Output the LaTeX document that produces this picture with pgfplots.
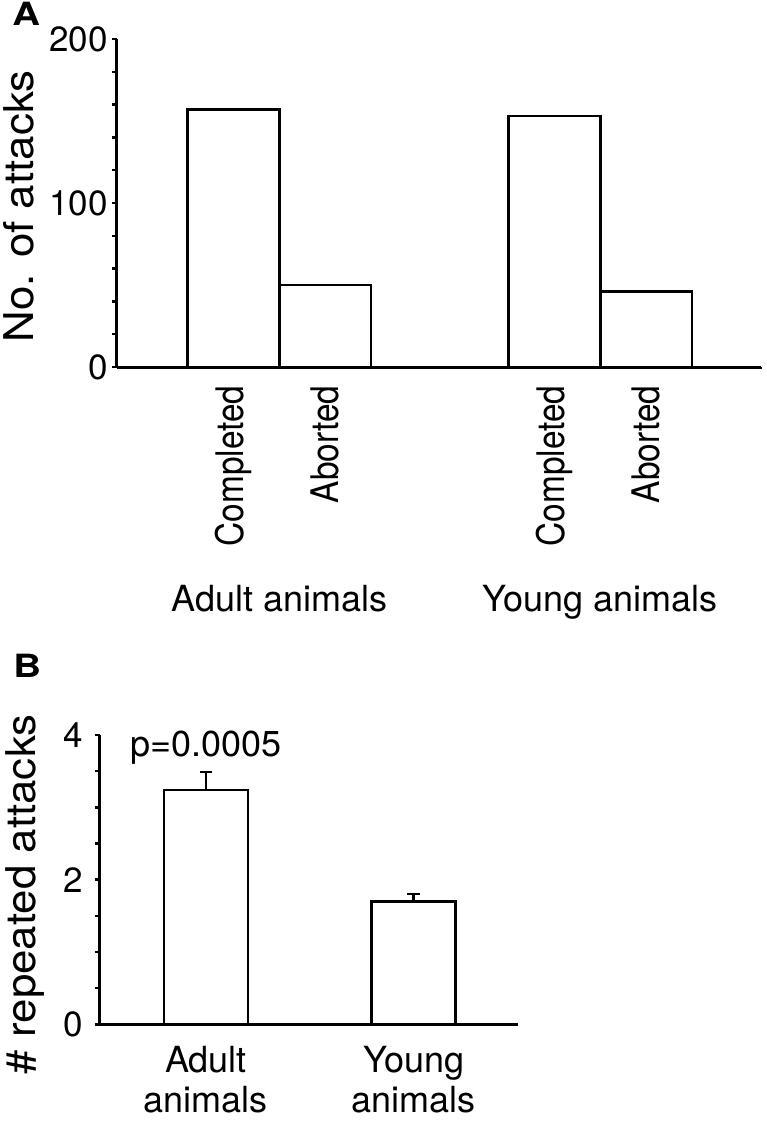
\documentclass[border=0pt]{standalone}
\usepackage{fontspec}
\setmainfont{TeX Gyre Heros}
\newfontfamily\ylabfont{TeX Gyre Heros}[FakeStretch=1.07]
\newfontfamily\rotfont{TeX Gyre Heros}[FakeStretch=0.88]
\newfontfamily\panelfont{TeX Gyre Heros}[FakeStretch=1.2]
\usepackage{pgfplots}
\pgfplotsset{compat=1.18}

\begin{document}
\begin{tikzpicture}
\path[use as bounding box] (0pt,0pt) rectangle (383.5pt,-560.5pt);
% ---------------- Panel A ----------------
\begin{axis}[
  name=A,
  at={(58.5pt,-183.5pt)}, anchor=south west,
  scale only axis, width=322pt, height=164pt,
  xmin=-1.271, xmax=5.754, ymin=0, ymax=200,
  ybar, bar width=1,
  axis lines=left, axis line style={-, line width=1.5pt},
  clip=false,
  ytick={0,100,200}, minor y tick num=4,
  tick align=outside, major tick length=2.5pt, minor tick length=2.5pt,
  tick style={black, line width=1.2pt},
  /pgf/number format/assume math mode=true,
  y tick label style={font=\fontsize{17.5}{20}\selectfont, anchor=east, inner ysep=0pt, inner xsep=2pt},
  xtick={0,1,3.5,4.5},
  xticklabels={Completed,Aborted,Completed,Aborted},
  x tick style={draw=none},
  x tick label style={rotate=90, anchor=east, font=\fontsize{19}{22}\rotfont, inner ysep=0pt, inner xsep=6.5pt},
  ylabel={No. of attacks},
  ylabel style={at={(rel axis cs:-0.1304,0.49)}, anchor=base, inner sep=0pt, font=\fontsize{20.5}{24}\ylabfont},
]
\addplot[fill=white, draw=black, line width=1.3pt] coordinates {(0,157) (1,50) (3.5,153) (4.5,46)};
\node[anchor=base, font=\fontsize{18}{22}\selectfont, inner sep=0pt] at (axis cs:0.5,-148.8) {Adult animals};
\node[anchor=base, font=\fontsize{18}{22}\selectfont, inner sep=0pt] at (axis cs:4.0,-148.8) {Young animals};
\node[anchor=base west, inner sep=0pt, font={\fontsize{16}{19}\selectfont\panelfont\bfseries}] at (rel axis cs:-0.163,1.0427) {A};
\draw[line width=1.2pt] (rel axis cs:1,0) -- ++(0pt,-1.2pt);
\end{axis}
% ---------------- Panel B ----------------
\begin{axis}[
  name=B,
  at={(50pt,-512.15pt)}, anchor=south west,
  scale only axis, width=209pt, height=144.65pt,
  xmin=-0.510, xmax=1.502, ymin=0, ymax=4,
  ybar, bar width=0.404,
  axis lines=left, axis line style={-, line width=1.5pt},
  clip=false,
  ytick={0,2,4}, minor y tick num=3,
  tick align=outside, major tick length=2.5pt, minor tick length=2.5pt,
  tick style={black, line width=1.2pt},
  /pgf/number format/assume math mode=true,
  y tick label style={font=\fontsize{17.5}{20}\selectfont, anchor=east, inner ysep=0pt, inner xsep=6pt},
  xtick={0,1},
  xticklabels={{Adult\\animals},{Young\\animals}},
  x tick style={draw=none},
  x tick label style={align=center, font=\fontsize{18}{20}\selectfont, inner sep=0pt, yshift=-8.5pt},
  ylabel={\# repeated attacks},
  ylabel style={at={(rel axis cs:-0.1555,0.450)}, anchor=base, inner sep=0pt, font=\fontsize{20.5}{24}\ylabfont},
]
\addplot[fill=white, draw=black, line width=1.3pt,
  error bars/.cd, y dir=plus, y explicit,
  error bar style={line width=1.3pt, black},
  error mark options={rotate=90, line width=1.3pt, mark size=3.2pt, black}]
  coordinates {(0,3.24) +- (0,0.25) (1,1.70) +- (0,0.10)};
\node[anchor=base, font=\fontsize{18}{22}\selectfont, inner sep=0pt] at (axis cs:0,3.70) {p=0.0005};
\node[anchor=base west, inner sep=0pt, font={\fontsize{16}{19}\selectfont\panelfont\bfseries}] at (rel axis cs:-0.208,1.2005) {B};
\end{axis}
\end{tikzpicture}
\end{document}
